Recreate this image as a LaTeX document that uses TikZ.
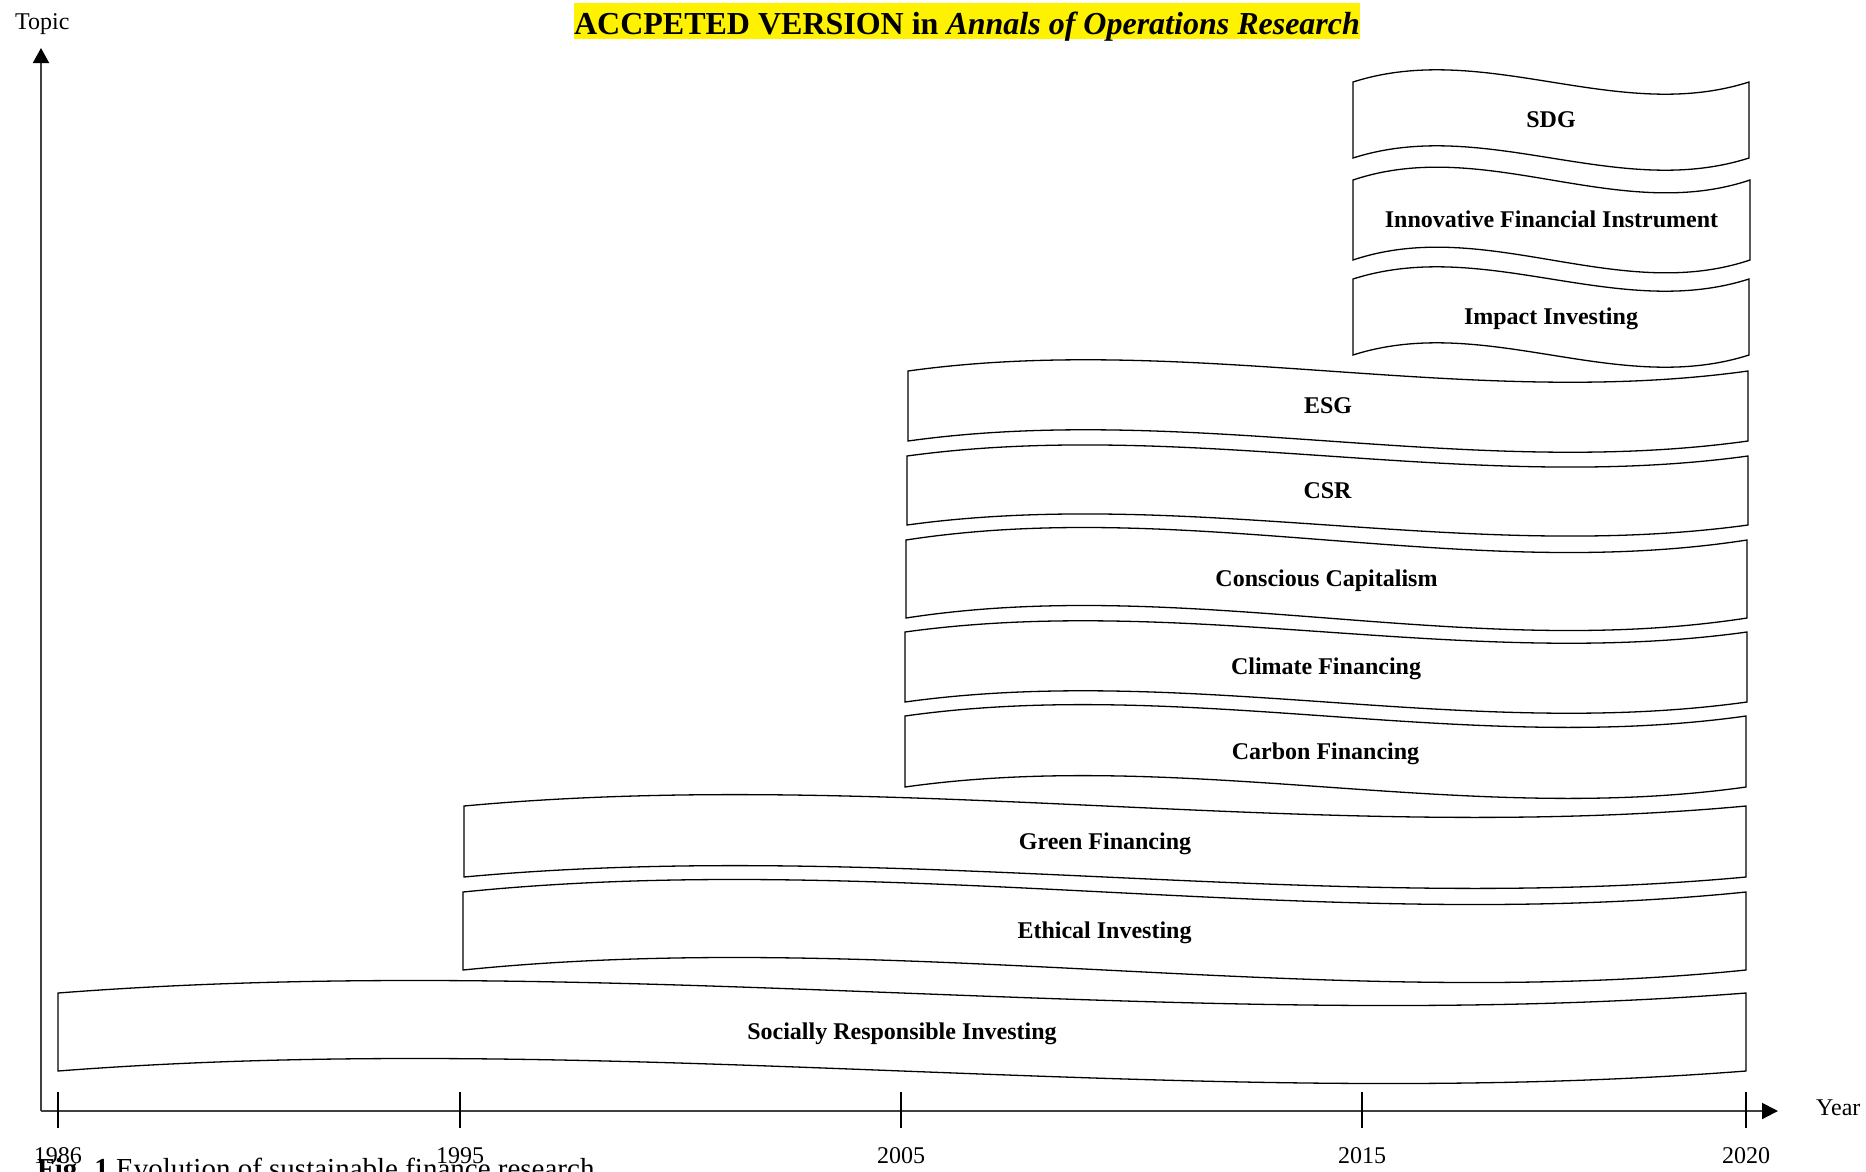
\documentclass[tikz,border=0pt]{standalone}
\usepackage{fontspec}
\setmainfont{Liberation Serif}
\usetikzlibrary{arrows.meta}
\definecolor{axisgray}{RGB}{64,64,64}
\tikzset{
  wave/.style={draw=black, line width=1.3pt, fill=white, line join=miter},
  boxlabel/.style={font=\fontsize{24}{28}\selectfont\bfseries, inner sep=0pt, anchor=base},
  axisline/.style={draw=axisgray, line width=2pt},
  tickline/.style={draw=black, line width=1.5pt},
  ticklabel/.style={font=\fontsize{24}{28}\selectfont, anchor=base, inner sep=0pt},
  plainlabel/.style={font=\fontsize{24}{28}\selectfont, anchor=base west, inner sep=0pt},
}
\newcommand{\wavebox}[6]{%
  \pgfmathsetmacro{\wdy}{0.5556*(#5-#4)}%
  \pgfmathsetmacro{\wxa}{#2+(#3-#2)/3}%
  \pgfmathsetmacro{\wxb}{#2+2*(#3-#2)/3}%
  \pgfmathsetmacro{\wta}{#4-\wdy}%
  \pgfmathsetmacro{\wtb}{#4+\wdy}%
  \pgfmathsetmacro{\wba}{#5-\wdy}%
  \pgfmathsetmacro{\wbb}{#5+\wdy}%
  \pgfmathsetmacro{\wmx}{(#2+#3)/2}%
  \pgfmathsetmacro{\wmy}{(#4+#5)/2+7.5}%
  \path[wave] (#2,#4) .. controls (\wxa,\wta) and (\wxb,\wtb) .. (#3,#4) -- (#3,#5) .. controls (\wxb,\wbb) and (\wxa,\wba) .. (#2,#5) -- cycle;
  \node[boxlabel] (#1) at (\wmx,\wmy) {#6};
}
\begin{document}
\begin{tikzpicture}[x=1pt,y=-1pt]
\useasboundingbox (0,0) rectangle (1866,1171);
\clip (0,0) rectangle (1866,1171);
\fill[white] (0,0) rectangle (1866,1171);

% title
\node[fill=yellow, inner xsep=0pt, inner ysep=0pt, text height=31pt, text depth=5pt, anchor=base,
      font=\fontsize{32}{36}\selectfont\bfseries] (title) at (967,34)
  {ACCPETED VERSION in \textit{Annals of Operations Research}};

% axes
\coordinate (O) at (41,1111);
\coordinate (ytip) at (41,48);
\coordinate (xtip) at (1778,1111);
\draw[axisline, -{Triangle[length=15pt,width=16pt,fill=black,color=black]}] (O) -- (ytip);
\draw[axisline, -{Triangle[length=16pt,width=16pt,fill=black,color=black]}] (O) -- (xtip);
\node[plainlabel] (topic) at (15,29) {Topic};
\node[plainlabel] (year) at (1816,1115) {Year};

% ticks
\foreach \tx/\lab in {58/1986, 460/1995, 901/2005, 1362/2015, 1746/2020}{
  \coordinate (ta\lab) at (\tx,1092);
  \coordinate (tb\lab) at (\tx,1128);
  \draw[tickline] (ta\lab) -- (tb\lab);
  \node[ticklabel] (lab\lab) at (\tx,1163) {\lab};
}

% wave boxes
\wavebox{sdg}{1353}{1749}{82}{158}{SDG}
\wavebox{ifi}{1353}{1750}{180}{260}{Innovative Financial Instrument}
\wavebox{impact}{1353}{1749}{279}{355}{Impact Investing}
\wavebox{esg}{908}{1748}{371}{441}{ESG}
\wavebox{csr}{907}{1748}{456}{525}{CSR}
\wavebox{conscious}{906}{1747}{540}{618}{Conscious Capitalism}
\wavebox{climate}{905}{1747}{632}{702}{Climate Financing}
\wavebox{carbon}{905}{1746}{716}{787}{Carbon Financing}
\wavebox{green}{464}{1746}{806}{877}{Green Financing}
\wavebox{ethical}{463}{1746}{892}{970}{Ethical Investing}
\wavebox{sri}{58}{1746}{993}{1071}{Socially Responsible Investing}

% caption (cut off at the bottom, as in the reference)
\node[anchor=base west, inner sep=0pt, font=\fontsize{29}{33}\selectfont] (caption) at (37,1178)
  {\textbf{Fig. 1} Evolution of sustainable finance research};
\end{tikzpicture}
\end{document}
